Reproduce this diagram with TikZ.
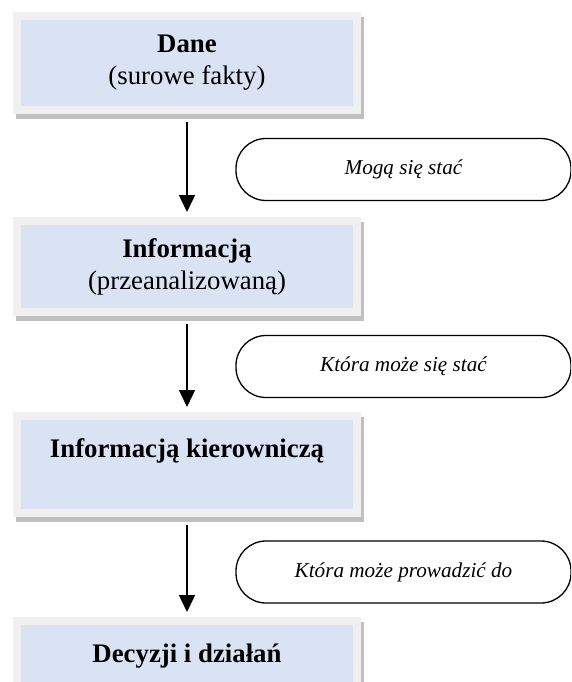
\documentclass[tikz,border=0pt]{standalone}
\usepackage{fontspec}
\setmainfont{Liberation Serif}
\usetikzlibrary{positioning,arrows.meta}
\definecolor{boxfill}{RGB}{218,227,243}
\definecolor{boxframe}{RGB}{240,240,240}
\definecolor{boxshade}{RGB}{192,192,192}

\begin{document}
\begin{tikzpicture}[
  x=1pt, y=-1pt,
  stage/.style={rectangle, fill=boxfill, draw=boxframe, line width=8pt,
                minimum width=340pt, align=center, inner sep=0pt,
                font=\fontsize{26.8}{32}\selectfont,
                preaction={fill=boxshade, draw=boxshade,
                           transform canvas={xshift=3pt, yshift=-5pt}}},
  note/.style={draw=black, line width=1.3pt, rounded corners=30pt,
               minimum width=335pt, minimum height=62pt,
               font=\fontsize{21.2}{24}\selectfont\itshape},
  flowarr/.style={-{Triangle[width=16pt,length=17pt]}, line width=1.5pt,
                  shorten <=8pt, shorten >=5pt},
]

% page
\useasboundingbox (0,0) rectangle (571,682);
\clip (0,0) rectangle (571,682);

% stages
\node[stage, minimum height=94pt] (dane)  at (187,63)    {\textbf{Dane}\\(surowe fakty)};
\node[stage, minimum height=91pt] (info)  at (187,266.5) {\textbf{Informacją}\\(przeanalizowaną)};
\node[stage, minimum height=97pt] (kier)  at (187,464.5) {\textbf{Informacją kierowniczą}\\\mbox{}};
\node[stage, minimum height=97pt] (decyz) at (187,669.5) {\textbf{Decyzji i działań}\\\mbox{}};

% notes beside the arrows
\node[note] (n1) at (403.5,169.5) {Mogą się stać};
\node[note] (n2) at (403.5,366.5) {Która może się stać};
\node[note] (n3) at (403.5,572)   {Która może prowadzić do};

% arrows
\draw[flowarr] (dane) -- (info);
\draw[flowarr] (info) -- (kier);
\draw[flowarr] (kier) -- (decyz);

\end{tikzpicture}
\end{document}
